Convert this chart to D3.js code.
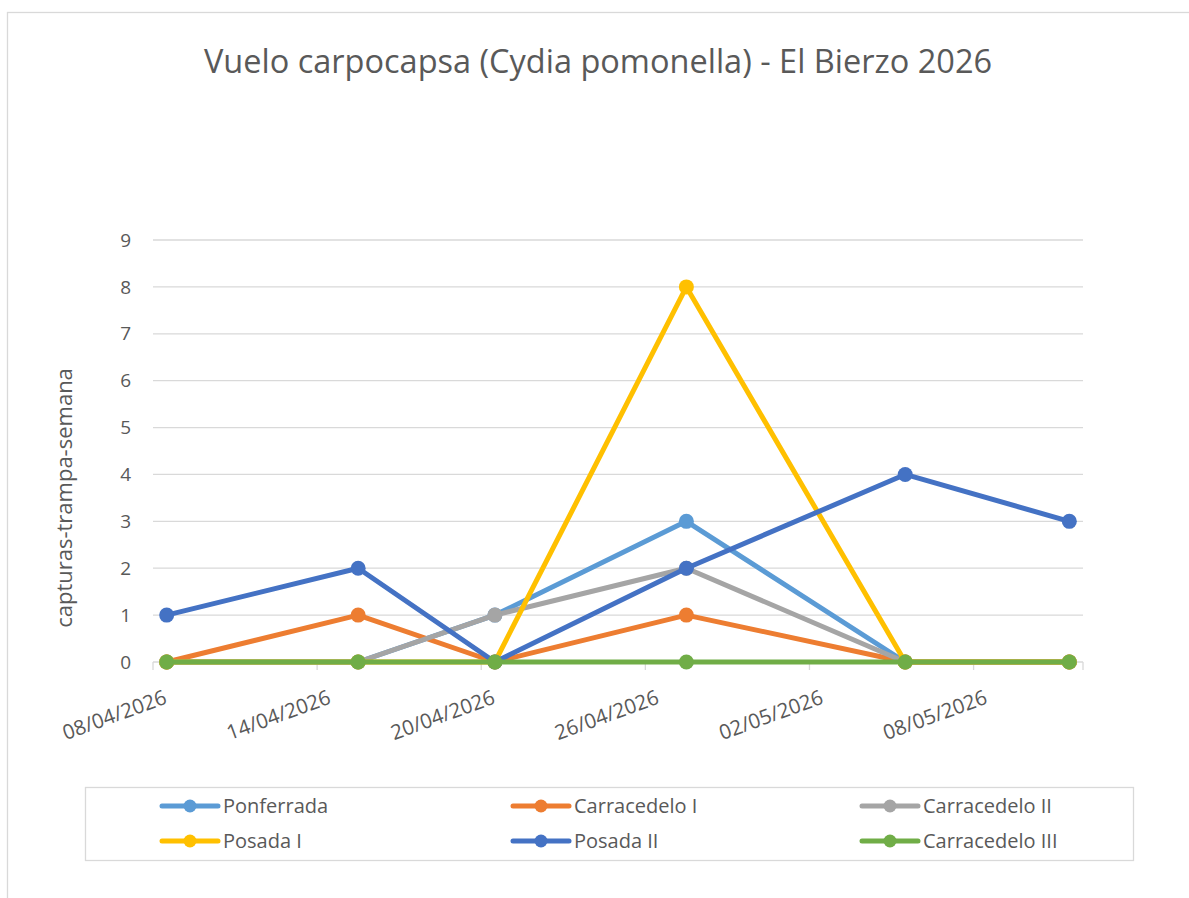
<!DOCTYPE html>
<html lang="es">
<head>
<meta charset="UTF-8">
<title>Vuelo carpocapsa - El Bierzo 2026</title>
<style>
  body { margin: 0; background: #fff; }
  text { font-family: "Open Sans", sans-serif; fill: #595959; }
  .grid line { stroke: #d9d9d9; stroke-width: 1.3px; }
  .series path { fill: none; stroke-width: 5px; stroke-linejoin: round; }
</style>
</head>
<body>
<div id="chart"></div>
<script src="https://d3js.org/d3.v7.min.js"></script>
<script>
// data
const dates = ["08/04/2026", "15/04/2026", "20/04/2026", "27/04/2026", "05/05/2026", "11/05/2026"];
const seriesNames = ["Ponferrada", "Carracedelo I", "Carracedelo II", "Posada I", "Posada II", "Carracedelo III"];
const ponferrada = [0, 0, 1, 3, 0, 0];
const carracedeloI = [0, 1, 0, 1, 0, 0];
const carracedeloII = [0, 0, 1, 2, 0, 0];
const posadaI = [0, 0, 0, 8, 0, 0];
const posadaII = [1, 2, 0, 2, 4, 3];
const carracedeloIII = [0, 0, 0, 0, 0, 0];
const colors = ["#5b9bd5", "#ed7d31", "#a5a5a5", "#ffc000", "#4472c4", "#70ad47"];
const xTickLabels = ["08/04/2026", "14/04/2026", "20/04/2026", "26/04/2026", "02/05/2026", "08/05/2026"];
const yTicks = [0, 1, 2, 3, 4, 5, 6, 7, 8, 9];

const title = "Vuelo carpocapsa (Cydia pomonella) - El Bierzo 2026";
const yTitle = "capturas-trampa-semana";

const values = [ponferrada, carracedeloI, carracedeloII, posadaI, posadaII, carracedeloIII];

const W = 1189, H = 898;
const parse = d3.timeParse("%d/%m/%Y");

const svg = d3.select("#chart").append("svg")
  .attr("width", W)
  .attr("height", H);

// outer chart border
svg.append("rect")
  .attr("x", 7.5).attr("y", 12.5)
  .attr("width", W + 20).attr("height", H + 20)
  .attr("fill", "#fff")
  .attr("stroke", "#d9d9d9")
  .attr("stroke-width", 1.3);

// date axis: days sit between tick marks, so the domain runs one day past the last date
const x = d3.scaleTime()
  .domain([parse("08/04/2026"), d3.timeDay.offset(parse("11/05/2026"), 1)])
  .range([153, 1083]);
const y = d3.scaleLinear().domain([0, 9]).range([662, 240]);

const midDay = d => d3.timeHour.offset(parse(d), 12);

// gridlines
svg.append("g").attr("class", "grid")
  .selectAll("line")
  .data(yTicks)
  .join("line")
  .attr("x1", x.range()[0]).attr("x2", x.range()[1])
  .attr("y1", d => y(d)).attr("y2", d => y(d));

// y tick labels
svg.append("g")
  .selectAll("text")
  .data(yTicks)
  .join("text")
  .attr("x", 131)
  .attr("y", d => y(d))
  .attr("dy", "0.35em")
  .attr("text-anchor", "end")
  .style("font-size", "19px")
  .text(d => d);

// x tick marks
const xTicks = xTickLabels.map(parse);
svg.append("g").attr("class", "grid")
  .selectAll("line")
  .data(xTicks.concat([x.domain()[1]]))
  .join("line")
  .attr("x1", d => x(d)).attr("x2", d => x(d))
  .attr("y1", y(0)).attr("y2", y(0) + 8);

// x tick labels, rotated
svg.append("g")
  .selectAll("text")
  .data(xTickLabels)
  .join("text")
  .attr("text-anchor", "end")
  .attr("transform", d => `translate(${x(parse(d)) + 15},${703}) rotate(-20)`)
  .style("font-size", "20.5px")
  .text(d => d);

// series lines and markers
const line = d3.line()
  .x((v, i) => x(midDay(dates[i])))
  .y(v => y(v));

const series = svg.append("g")
  .selectAll("g")
  .data(values)
  .join("g")
  .attr("class", "series");

series.append("path")
  .attr("stroke", (d, i) => colors[i])
  .attr("d", d => line(d));

series.each(function(vals, si) {
  d3.select(this).selectAll("circle")
    .data(vals)
    .join("circle")
    .attr("cx", (v, i) => x(midDay(dates[i])))
    .attr("cy", v => y(v))
    .attr("r", 7.5)
    .attr("fill", colors[si]);
});

// title
svg.append("text")
  .attr("x", 598).attr("y", 73)
  .attr("text-anchor", "middle")
  .style("font-size", "32.5px")
  .text(title);

// y axis title
svg.append("text")
  .attr("transform", "translate(72,498) rotate(-90)")
  .attr("text-anchor", "middle")
  .style("font-size", "22px")
  .text(yTitle);

// legend
const legend = svg.append("g");
legend.append("rect")
  .attr("x", 85.5).attr("y", 787.5)
  .attr("width", 1048).attr("height", 73)
  .attr("fill", "none")
  .attr("stroke", "#d9d9d9")
  .attr("stroke-width", 1.3);

const colX = [162, 513, 862];
const rowY = [806, 841];
const item = legend.selectAll("g.item")
  .data(seriesNames)
  .join("g")
  .attr("class", "item")
  .attr("transform", (d, i) => `translate(${colX[i % 3]},${rowY[Math.floor(i / 3)]})`);

item.append("line")
  .attr("x1", 0).attr("x2", 56)
  .attr("stroke", (d, i) => colors[i])
  .attr("stroke-width", 5)
  .attr("stroke-linecap", "round");
item.append("circle")
  .attr("cx", 28).attr("r", 6.5)
  .attr("fill", (d, i) => colors[i]);
item.append("text")
  .attr("x", 61)
  .attr("dy", "0.35em")
  .style("font-size", "20px")
  .text(d => d);
</script>
</body>
</html>
